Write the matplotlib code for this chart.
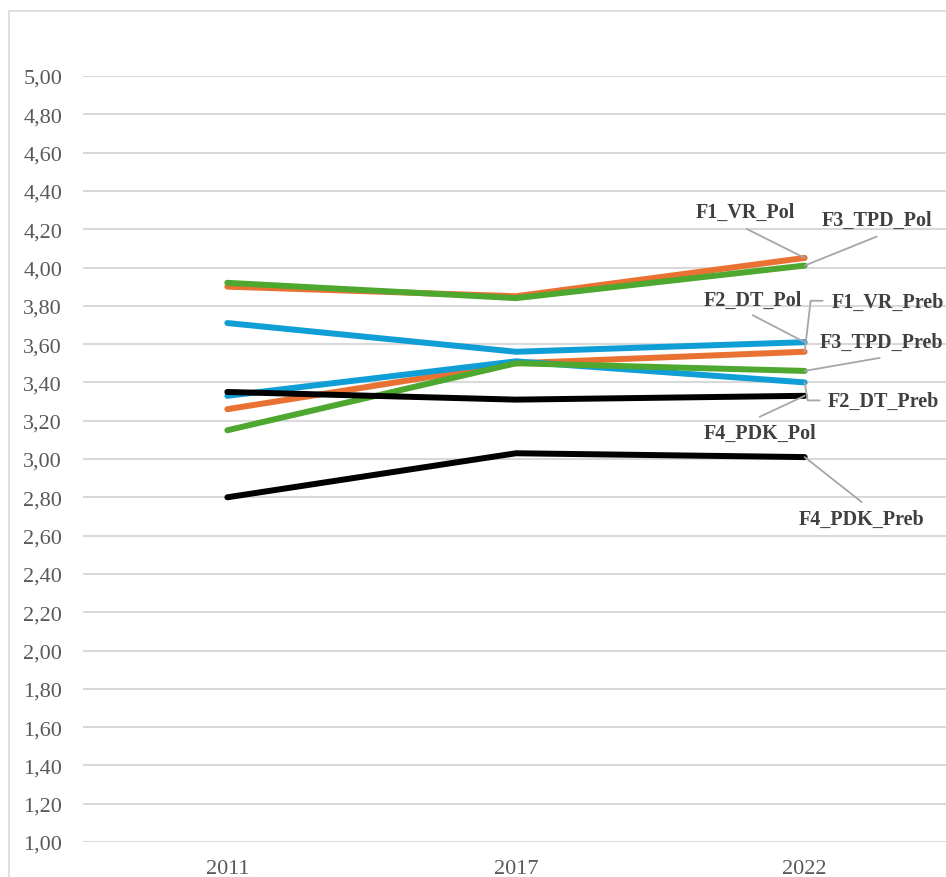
import math
import matplotlib.pyplot as plt
from matplotlib.patches import Rectangle
from matplotlib.ticker import FuncFormatter

years = ["2011", "2017", "2022"]

f1_vr_pol = [3.90, 3.85, 4.05]
f1_vr_preb = [3.26, 3.50, 3.56]
f2_dt_pol = [3.71, 3.56, 3.61]
f2_dt_preb = [3.33, 3.51, 3.40]
f3_tpd_pol = [3.92, 3.84, 4.01]
f3_tpd_preb = [3.15, 3.50, 3.46]
f4_pdk_pol = [3.35, 3.31, 3.33]
f4_pdk_preb = [2.80, 3.03, 3.01]

series = [
    ("F1_VR_Pol", f1_vr_pol, "#E97132"),
    ("F1_VR_Preb", f1_vr_preb, "#E97132"),
    ("F2_DT_Pol", f2_dt_pol, "#0F9ED5"),
    ("F2_DT_Preb", f2_dt_preb, "#0F9ED5"),
    ("F3_TPD_Pol", f3_tpd_pol, "#4EA72E"),
    ("F3_TPD_Preb", f3_tpd_preb, "#4EA72E"),
    ("F4_PDK_Pol", f4_pdk_pol, "#000000"),
    ("F4_PDK_Preb", f4_pdk_preb, "#000000"),
]

# label layout at the last point, pixel offsets:
# (text offset, text align, leader start, elbow corner or None)
label_layout = {
    "F1_VR_Pol": ((-59, 46), "center", (-58, 29), None),
    "F3_TPD_Pol": ((72, 46), "center", (72, 29), None),
    "F2_DT_Pol": ((-52, 42), "center", (-52, 27), None),
    "F1_VR_Preb": ((139, 50), "right", (18, 51), (6, 51)),
    "F3_TPD_Preb": ((139, 29), "right", (75, 13), None),
    "F2_DT_Preb": ((23, -18), "left", (15, -18), (3, -18)),
    "F4_PDK_Pol": ((-45, -37), "center", (-45, -21), None),
    "F4_PDK_Preb": ((57, -62), "center", (57, -45), None),
}

fig = plt.figure(figsize=(9.46, 8.78), dpi=100)
fig.patches.append(Rectangle((9 / 946, -0.1), 1.2, 1.1 - 12 / 878,
                             transform=fig.transFigure, fill=False,
                             edgecolor="#d9d9d9", linewidth=1.2))
ax = fig.add_axes([83 / 946, 35 / 878, 866 / 946, 766 / 878])

x = list(range(len(years)))
for name, vals, col in series:
    ax.plot(x, vals, color=col, linewidth=4.3, solid_capstyle="round", zorder=3)

for name, vals, col in series:
    (tx, ty), ha, (lx, ly), corner = label_layout[name]
    pt = (x[-1], vals[-1])
    ax.annotate(name, xy=pt, xytext=(tx, ty), textcoords="offset pixels",
                ha=ha, va="center", fontsize=14.5, fontweight="bold",
                family="Liberation Serif", color="#404040", annotation_clip=False)
    if corner is None:
        conn = "arc3"
    else:
        angle_b = math.degrees(math.atan2(corner[1], corner[0]))
        conn = f"angle,angleA=0,angleB={angle_b:.1f},rad=0"
    ax.annotate("", xy=pt, xytext=(lx, ly), textcoords="offset pixels",
                arrowprops=dict(arrowstyle="-", color="#a6a6a6", linewidth=1.3,
                                shrinkA=0, shrinkB=0, connectionstyle=conn),
                annotation_clip=False)

ax.set_xlim(-0.5, 2.5)
ax.set_ylim(1.0, 5.0)
ax.set_yticks([1.0 + 0.2 * i for i in range(21)])
ax.yaxis.set_major_formatter(FuncFormatter(lambda v, p: f"{v:.2f}".replace(".", ",")))
ax.set_xticks(x)
ax.set_xticklabels(years)
ax.grid(axis="y", color="#d9d9d9", linewidth=1.5)
ax.set_axisbelow(True)
for s in ax.spines.values():
    s.set_visible(False)
ax.tick_params(axis="y", length=0, pad=15, labelsize=16, labelcolor="#595959")
ax.tick_params(axis="x", length=0, pad=12, labelsize=16, labelcolor="#595959")
for lab in ax.get_xticklabels() + ax.get_yticklabels():
    lab.set_family("Liberation Serif")

fig.savefig("out.png", dpi=100)
